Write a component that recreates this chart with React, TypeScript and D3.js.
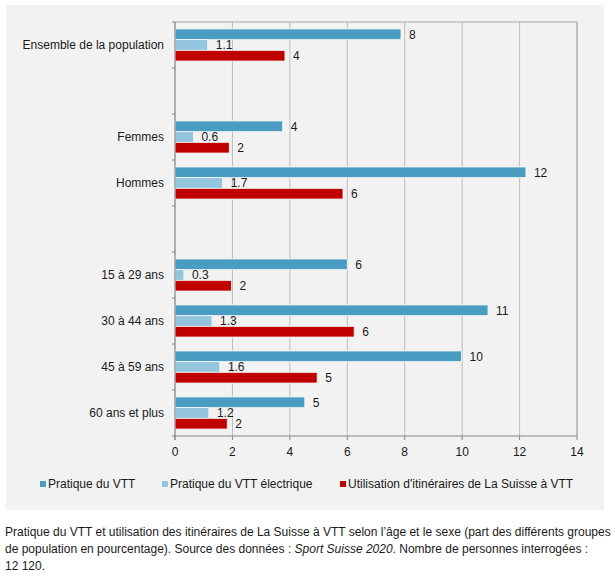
import React from "react";
import * as d3 from "d3";

const categories = [
  "Ensemble de la population",
  "",
  "Femmes",
  "Hommes",
  " ",
  "15 à 29 ans",
  "30 à 44 ans",
  "45 à 59 ans",
  "60 ans et plus",
];
const seriesNames = [
  "Pratique du VTT",
  "Pratique du VTT électrique",
  "Utilisation d'itinéraires de La Suisse à VTT",
];
const vtt = [7.87, null, 3.75, 12.22, null, 6.0, 10.9, 9.98, 4.52];
const vttElec = [1.14, null, 0.64, 1.66, null, 0.31, 1.29, 1.56, 1.18];
const itineraires = [3.83, null, 1.89, 5.85, null, 1.97, 6.24, 4.95, 1.82];
const xTicks = [0, 2, 4, 6, 8, 10, 12, 14];
const captionLines = [
  "Pratique du VTT et utilisation des itinéraires de La Suisse à VTT selon l’âge et le sexe (part des différents groupes",
  "de population en pourcentage). Source des données : ",
  "12 120.",
];

const colors = ["#4b9cc3", "#93c5df", "#c00000"];
const formats = [d3.format(".0f"), d3.format(".1f"), d3.format(".0f")];

export default function App() {
  const W = 615, H = 577;
  const left = 175, right = 577, top = 22, bottom = 436;
  const x = d3.scaleLinear().domain([0, 14]).range([left, right]);
  const keys = categories.map((c, i) => String(i));
  const y = d3.scaleBand().domain(keys).range([top, bottom]).padding(0);
  const sub = d3.scaleBand<number>().domain([0, 1, 2]).range([0, y.bandwidth()]).paddingInner(0).paddingOuter(0.65);
  const series = [vtt, vttElec, itineraires];
  const font = "'Liberation Sans', Arial, sans-serif";

  const legendX = [40, 162, 340];

  return (
    <svg width={W} height={H} style={{ position: "absolute", left: 0, top: 0, background: "#fff" }} fontFamily={font}>
      <rect x={6} y={5} width={598} height={505} fill="#f2f2f2" />
      {/* gridlines */}
      {xTicks.map((t) => (
        <line key={"g" + t} x1={x(t)} x2={x(t)} y1={top} y2={bottom} stroke="#bdbdbd" strokeWidth={1} />
      ))}
      <line x1={left} x2={right} y1={top} y2={top} stroke="#a6a6a6" />
      <line x1={right} x2={right} y1={top} y2={bottom} stroke="#a6a6a6" />
      {/* bars */}
      {series.map((s, si) =>
        s.map((v, ci) =>
          v == null ? null : (
            <g key={si + "-" + ci}>
              <rect
                x={x(0)}
                y={(y(keys[ci]) as number) + (sub(si) as number)}
                width={x(v) - x(0)}
                height={sub.bandwidth()}
                fill={colors[si]}
                stroke="#f8f8f8"
                strokeWidth={0.8}
              />
              <text
                x={x(v) + 8}
                y={(y(keys[ci]) as number) + (sub(si) as number) + sub.bandwidth() / 2}
                dy="0.35em"
                fontSize={12}
                fill="#1a1a1a"
              >
                {formats[si](v)}
              </text>
            </g>
          )
        )
      )}
      {/* y axis */}
      <line x1={left} x2={left} y1={top} y2={bottom + 4} stroke="#868686" />
      {keys.map((k, i) => (
        <line key={"yt" + i} x1={left - 3} x2={left} y1={y(k) as number} y2={y(k) as number} stroke="#868686" />
      ))}
      <line x1={left - 3} x2={left} y1={bottom} y2={bottom} stroke="#868686" />
      {categories.map((c, i) => (
        <text key={"c" + i} x={164} y={(y(keys[i]) as number) + y.bandwidth() / 2} dy="0.35em" textAnchor="end" fontSize={12} fill="#1a1a1a">
          {c.trim()}
        </text>
      ))}
      {/* x axis */}
      <line x1={left} x2={right} y1={bottom} y2={bottom} stroke="#868686" />
      {xTicks.map((t) => (
        <g key={"xt" + t}>
          <line x1={x(t)} x2={x(t)} y1={bottom} y2={bottom + 4} stroke="#868686" />
          <text x={x(t)} y={452} dy="0.35em" textAnchor="middle" fontSize={12} fill="#1a1a1a">
            {t}
          </text>
        </g>
      ))}
      {/* legend */}
      {seriesNames.map((n, i) => (
        <g key={"l" + i}>
          <rect x={legendX[i]} y={481} width={6} height={6} fill={colors[i]} />
          <text x={legendX[i] + 8} y={484} dy="0.35em" fontSize={12} fill="#1a1a1a">
            {n}
          </text>
        </g>
      ))}
      {/* caption */}
      <text x={5} y={532} dy="0.35em" fontSize={12} fill="#1a1a1a">{captionLines[0]}</text>
      <text x={5} y={549} dy="0.35em" fontSize={12} fill="#1a1a1a">
        {captionLines[1]}
        <tspan fontStyle="italic">Sport Suisse 2020</tspan>
        <tspan>. Nombre de personnes interrogées :</tspan>
      </text>
      <text x={5} y={566} dy="0.35em" fontSize={12} fill="#1a1a1a">{captionLines[2]}</text>
    </svg>
  );
}
